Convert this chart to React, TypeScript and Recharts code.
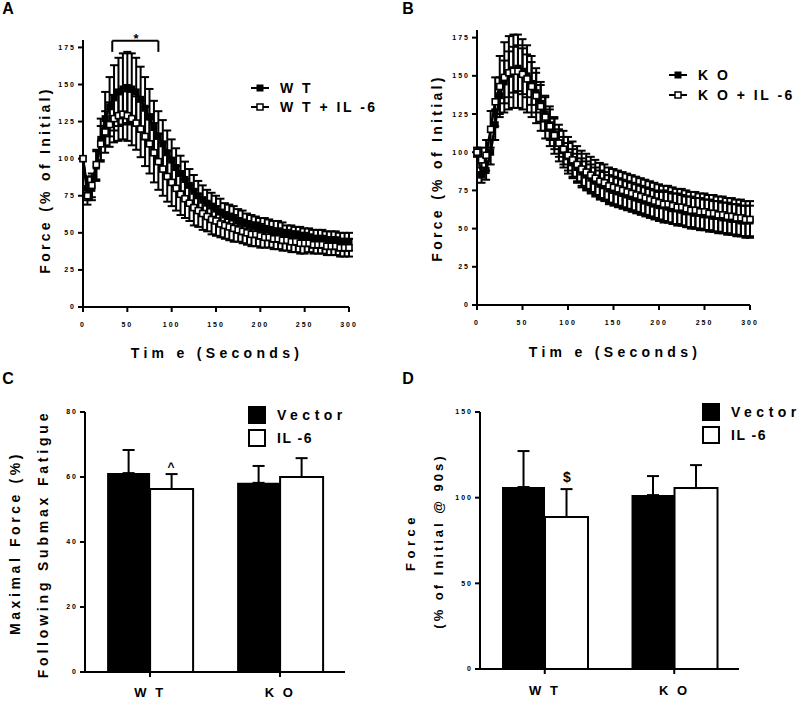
import React from 'react';
import { LineChart, Line, XAxis, YAxis, ErrorBar, BarChart, Bar, ReferenceLine } from 'recharts';

const FONT = '"Liberation Sans", Arial, Helvetica, sans-serif';

// ---------- Panels A & B : time course ----------
const timeSec = [0,5,10,15,20,25,30,35,40,45,50,55,60,65,70,75,80,85,90,95,100,105,110,115,120,125,130,135,140,145,150,155,160,165,170,175,180,185,190,195,200,205,210,215,220,225,230,235,240,245,250,255,260,265,270,275,280,285,290,295,300];

const wtMean = [100,80,80,95,113,127,135,141,145,147,148,147,145,140,134,128,121,115,110,104,99,94,90,86,82,78,75,72,70,68,66,64,62,61,60,58,57,56,55,54,53,53,52,51,51,50,49,49,48,48,47,47,46,46,46,45,45,45,44,44,44];
const wtErr = [0,8,8,10,14,18,20,22,23,24,24,24,23,22,21,19,18,17,16,15,14,13,12,12,11,11,10,10,9,9,9,9,8,8,8,8,8,7,7,7,7,7,7,7,7,7,6,6,6,6,6,6,6,6,6,6,6,6,6,6,6];
const wtIl6Mean = [100,75,82,96,110,118,123,127,129,130,129,127,124,120,115,110,104,98,93,88,84,80,76,73,70,67,65,63,61,59,58,56,55,54,53,52,51,50,49,49,48,47,47,46,46,45,45,44,44,43,43,43,42,42,42,41,41,41,40,40,40];
const wtIl6Err = [0,6,8,10,12,14,15,16,17,17,17,18,18,19,20,20,20,19,18,17,16,15,14,13,12,12,11,11,10,10,10,9,9,9,9,8,8,8,8,8,8,7,7,7,7,7,7,7,7,7,7,6,6,6,6,6,6,6,6,6,6];

const koMean = [100,85,88,100,118,137,146,151,154,155,153,150,145,139,132,125,118,112,106,101,97,93,90,87,85,83,81,79,78,76,75,74,73,72,71,70,69,68,67,66,65,65,64,63,63,62,61,61,60,60,59,59,58,58,57,57,56,56,55,55,55];
const koErr = [0,5,6,8,10,12,14,15,15,15,15,14,14,13,12,11,10,10,9,9,9,9,9,9,9,9,9,9,9,9,9,9,9,9,9,9,9,9,9,9,9,10,10,10,10,10,10,10,10,10,10,10,10,10,10,10,10,10,10,10,10];
const koIl6Mean = [100,95,98,115,133,143,149,152,153,153,151,148,143,137,130,123,117,111,106,102,98,95,92,89,87,85,83,81,80,78,77,76,75,74,73,72,71,70,69,68,67,66,66,65,64,64,63,62,62,61,61,60,60,59,59,58,58,57,57,56,56];
const koIl6Err = [3,8,10,12,16,20,23,24,24,24,23,22,20,18,16,14,13,12,12,12,12,12,12,12,12,12,12,12,12,12,12,12,12,12,12,12,12,12,12,12,12,12,12,12,12,12,12,12,12,12,12,12,12,12,12,12,12,12,12,12,12];

const xTicks = [0,50,100,150,200,250,300];
const yTicksTime = [0,25,50,75,100,125,150,175];

// ---------- Panels C & D : bars ----------
const genotypes = ['W T', 'K O'];
const cVector = [61.2, 58.2];
const cVectorSem = [7.1, 5.2];
const cIl6 = [56.3, 60.0];
const cIl6Sem = [4.6, 5.8];
const cTicks = [0,20,40,60,80];

const dVector = [106.2, 101.5];
const dVectorSem = [21.0, 11.1];
const dIl6 = [88.7, 105.6];
const dIl6Sem = [16.3, 13.4];
const dTicks = [0,50,100,150];

const timeData = timeSec.map((t, i) => ({
  t,
  wt: wtMean[i], wtE: wtErr[i],
  wt6: wtIl6Mean[i], wt6E: wtIl6Err[i],
  ko: koMean[i], koE: koErr[i],
  ko6: koIl6Mean[i], ko6E: koIl6Err[i],
}));

const cData = genotypes.map((g, i) => ({ g, vec: cVector[i], vecE: [0, cVectorSem[i]], il6: cIl6[i], il6E: [0, cIl6Sem[i]] }));
const dData = genotypes.map((g, i) => ({ g, vec: dVector[i], vecE: [0, dVectorSem[i]], il6: dIl6[i], il6E: [0, dIl6Sem[i]] }));

const tickStyle = { fontSize: 7, fill: '#000', fontWeight: 700, letterSpacing: 2, fontFamily: FONT };
const axisLine = { stroke: '#000', strokeWidth: 2 };
const tickLine = { stroke: '#000', strokeWidth: 2 };

const FilledSquare = (props: any) => {
  const { cx, cy, index } = props;
  if (cx == null || cy == null) return <g key={index} />;
  return <rect key={index} x={cx - 3.5} y={cy - 3.5} width={7} height={7} fill="#000" />;
};
const OpenSquare = (props: any) => {
  const { cx, cy, index } = props;
  if (cx == null || cy == null) return <g key={index} />;
  return <rect key={index} x={cx - 3} y={cy - 3} width={6} height={6} fill="#fff" stroke="#000" strokeWidth={1.6} />;
};

const Txt = ({ x, y, children, size = 14, spacing = 4, rotate = false, weight = 700, anchor = 'center' }: any) => (
  <div
    style={{
      position: 'absolute',
      left: x,
      top: y,
      fontSize: size,
      fontWeight: weight,
      letterSpacing: spacing,
      whiteSpace: 'nowrap',
      lineHeight: 1,
      color: '#000',
      transform: anchor === 'left'
        ? 'translate(0, -50%)'
        : `translate(-50%, -50%)${rotate ? ' rotate(-90deg)' : ''}`,
    }}
  >
    {children}
  </div>
);

const LineLegendItem = ({ x, y, filled, label }: any) => (
  <>
    <svg style={{ position: 'absolute', left: x, top: y - 6 }} width={20} height={12}>
      <line x1={1} y1={6} x2={19} y2={6} stroke="#000" strokeWidth={2} />
      {filled
        ? <rect x={6.5} y={2.5} width={7} height={7} fill="#000" />
        : <rect x={7} y={3} width={6} height={6} fill="#fff" stroke="#000" strokeWidth={1.5} />}
    </svg>
    <Txt x={x + 30} y={y} size={14} spacing={2.5} anchor="left">{label}</Txt>
  </>
);

const BarLegendItem = ({ x, y, filled, label, spacing }: any) => (
  <>
    <div style={{ position: 'absolute', left: x, top: y - 9, width: filled ? 18 : 14, height: filled ? 18 : 14, background: filled ? '#000' : '#fff', border: filled ? 'none' : '2px solid #000' }} />
    <Txt x={x + 29} y={y} size={14} spacing={spacing} anchor="left">{label}</Txt>
  </>
);

const TimePanel = ({ left, yWidth, top, right, mean1, err1, mean2, err2, bracket }: any) => (
  <div style={{ position: 'absolute', left, top: 0 }}>
    <LineChart width={400} height={340} data={timeData} margin={{ top, right, left: 0, bottom: 0 }}>
      <XAxis dataKey="t" type="number" domain={[0, 300]} ticks={xTicks} tick={tickStyle} axisLine={axisLine} tickLine={tickLine} tickSize={5} tickMargin={10} height={340 - top - (top === 40 ? 267 : 275)} interval={0} />
      <YAxis type="number" domain={[0, 180]} ticks={yTicksTime} tick={tickStyle} axisLine={axisLine} tickLine={tickLine} tickSize={5} tickMargin={2} width={yWidth} interval={0} />
      {bracket && <ReferenceLine segment={[{ x: 33, y: 172 }, { x: 33, y: 179.5 }]} stroke="#000" strokeWidth={2} ifOverflow="visible" />}
      {bracket && <ReferenceLine segment={[{ x: 33, y: 179.5 }, { x: 85, y: 179.5 }]} stroke="#000" strokeWidth={2} ifOverflow="visible" />}
      {bracket && <ReferenceLine segment={[{ x: 85, y: 179.5 }, { x: 85, y: 172 }]} stroke="#000" strokeWidth={2} ifOverflow="visible" />}
      <Line dataKey={mean1} type="linear" stroke="#000" strokeWidth={2.5} dot={FilledSquare} activeDot={false} isAnimationActive={false}>
        <ErrorBar dataKey={err1} direction="y" width={4} stroke="#000" strokeWidth={2} />
      </Line>
      <Line dataKey={mean2} type="linear" stroke="#000" strokeWidth={2.5} dot={OpenSquare} activeDot={false} isAnimationActive={false}>
        <ErrorBar dataKey={err2} direction="y" width={4} stroke="#000" strokeWidth={2} />
      </Line>
    </LineChart>
  </div>
);

const BarPanel = ({ left, yWidth, right, xHeight, data, domain, ticks, tm }: any) => (
  <div style={{ position: 'absolute', left, top: 340 }}>
    <BarChart width={400} height={361} data={data} margin={{ top: 72, right, left: 0, bottom: 0 }} barCategoryGap="17%" barGap={0} style={{ overflow: 'visible' }}>
      <XAxis dataKey="g" tick={{ fontSize: 13, fill: '#000', fontWeight: 700, letterSpacing: 2.5, fontFamily: FONT }} axisLine={axisLine} tickLine={tickLine} tickSize={5} tickMargin={tm} height={xHeight} interval={0} />
      <YAxis type="number" domain={domain} ticks={ticks} tick={tickStyle} axisLine={axisLine} tickLine={tickLine} tickSize={5} tickMargin={2} width={yWidth} interval={0} />
      <Bar dataKey="vec" fill="#000" isAnimationActive={false}>
        <ErrorBar dataKey="vecE" direction="y" width={6} stroke="#000" strokeWidth={2} />
      </Bar>
      <Bar dataKey="il6" fill="#fff" stroke="#000" strokeWidth={2} isAnimationActive={false}>
        <ErrorBar dataKey="il6E" direction="y" width={6} stroke="#000" strokeWidth={2} />
      </Bar>
    </BarChart>
  </div>
);

export default function App() {
  return (
    <div style={{ position: 'absolute', left: 0, top: 0, width: 800, height: 701, background: '#fff', fontFamily: FONT, overflow: 'hidden' }}>
      {/* Panel A */}
      <TimePanel left={0} yWidth={83} top={40} right={51} mean1="wt" err1="wtE" mean2="wt6" err2="wt6E" bracket />
      {/* Panel B */}
      <TimePanel left={400} yWidth={77} top={30} right={50} mean1="ko" err1="koE" mean2="ko6" err2="ko6E" />
      {/* Panel C */}
      <BarPanel left={0} yWidth={85} right={55} xHeight={29} data={cData} domain={[0, 80]} ticks={cTicks} tm={11} />
      {/* Panel D */}
      <BarPanel left={400} yWidth={80} right={61} xHeight={32} data={dData} domain={[0, 150]} ticks={dTicks} tm={12} />

      {/* Panel letters */}
      <Txt x={8} y={9} size={16} spacing={0} weight={700}>A</Txt>
      <Txt x={408} y={9} size={16} spacing={0} weight={700}>B</Txt>
      <Txt x={8} y={379} size={16} spacing={0} weight={700}>C</Txt>
      <Txt x={408} y={379} size={16} spacing={0} weight={700}>D</Txt>

      {/* Axis titles A/B */}
      <Txt x={45} y={180} size={14} spacing={3.3} rotate>Force (% of Initial)</Txt>
      <Txt x={217} y={353} size={14} spacing={4.3}>Tim e (Seconds)</Txt>
      <Txt x={437} y={168} size={14} spacing={3.3} rotate>Force (% of Initial)</Txt>
      <Txt x={615} y={352} size={14} spacing={4.3}>Tim e (Seconds)</Txt>

      {/* Axis titles C/D */}
      <Txt x={15} y={543} size={14} spacing={3.6} rotate>Maximal Force (%)</Txt>
      <Txt x={43} y={544} size={14} spacing={3.8} rotate>Following Submax Fatigue</Txt>
      <Txt x={410} y={542} size={13} spacing={4.5} rotate>Force</Txt>
      <Txt x={438} y={541} size={13} spacing={3} rotate>(% of Initial @ 90s)</Txt>

      {/* Significance marks */}
      <Txt x={136} y={38} size={13} spacing={0}>*</Txt>
      <Txt x={171} y={467} size={12} spacing={0}>^</Txt>
      <Txt x={567} y={477} size={14} spacing={0}>$</Txt>

      {/* Legends A/B */}
      <LineLegendItem x={250} y={88} filled label="W T" />
      <LineLegendItem x={250} y={107} filled={false} label="W T + IL -6" />
      <LineLegendItem x={668} y={75} filled label="K O" />
      <LineLegendItem x={668} y={95} filled={false} label="K O + IL -6" />

      {/* Legends C/D */}
      <BarLegendItem x={248} y={415} filled label="Vector" spacing={4.5} />
      <BarLegendItem x={248} y={438} filled={false} label="IL -6" spacing={1.5} />
      <BarLegendItem x={702} y={412} filled label="Vector" spacing={4.5} />
      <BarLegendItem x={702} y={435} filled={false} label="IL -6" spacing={1.5} />
    </div>
  );
}
